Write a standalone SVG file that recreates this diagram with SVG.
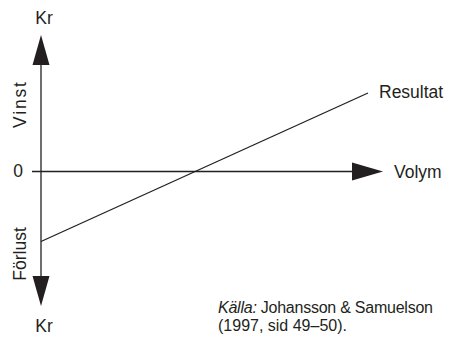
<svg xmlns="http://www.w3.org/2000/svg" width="454" height="340" viewBox="0 0 454 340">
<style>
text{font-family:"Liberation Sans",Arial,sans-serif;font-size:17.5px;fill:#231f20}
.src{font-size:16px}
.ax{stroke:#231f20;stroke-width:1.3;fill:none}
.head{fill:#231f20}
</style>
<rect width="454" height="340" fill="#fff"/>
<g id="connectors">
<line class="ax" x1="41" y1="64" x2="41" y2="278"/>
<polygon class="head" points="41,35 49.5,65 32.5,65"/>
<polygon class="head" points="41,306 49.5,276 32.5,276"/>
<line class="ax" x1="32" y1="171.5" x2="354" y2="171.5"/>
<polygon class="head" points="383,171.5 352,162.5 352,180.5"/>
<line class="ax" x1="41" y1="241.5" x2="368" y2="93"/>
</g>
<g id="kr-top"><text x="44" y="24" text-anchor="middle">Kr</text></g>
<g id="kr-bottom"><text x="44" y="332" text-anchor="middle">Kr</text></g>
<g id="zero"><text x="18" y="177" text-anchor="middle">0</text></g>
<g id="vinst"><text transform="translate(26,105) rotate(-90)" text-anchor="middle" textLength="46">Vinst</text></g>
<g id="forlust"><text transform="translate(26,254) rotate(-90)" text-anchor="middle">Förlust</text></g>
<g id="resultat"><text x="379" y="98">Resultat</text></g>
<g id="volym"><text x="394" y="178">Volym</text></g>
<g id="source">
<text class="src" x="218" y="313" textLength="215"><tspan font-style="italic">Källa:</tspan> Johansson &amp; Samuelson</text>
<text class="src" x="218" y="331">(1997, sid 49–50).</text>
</g>
</svg>
